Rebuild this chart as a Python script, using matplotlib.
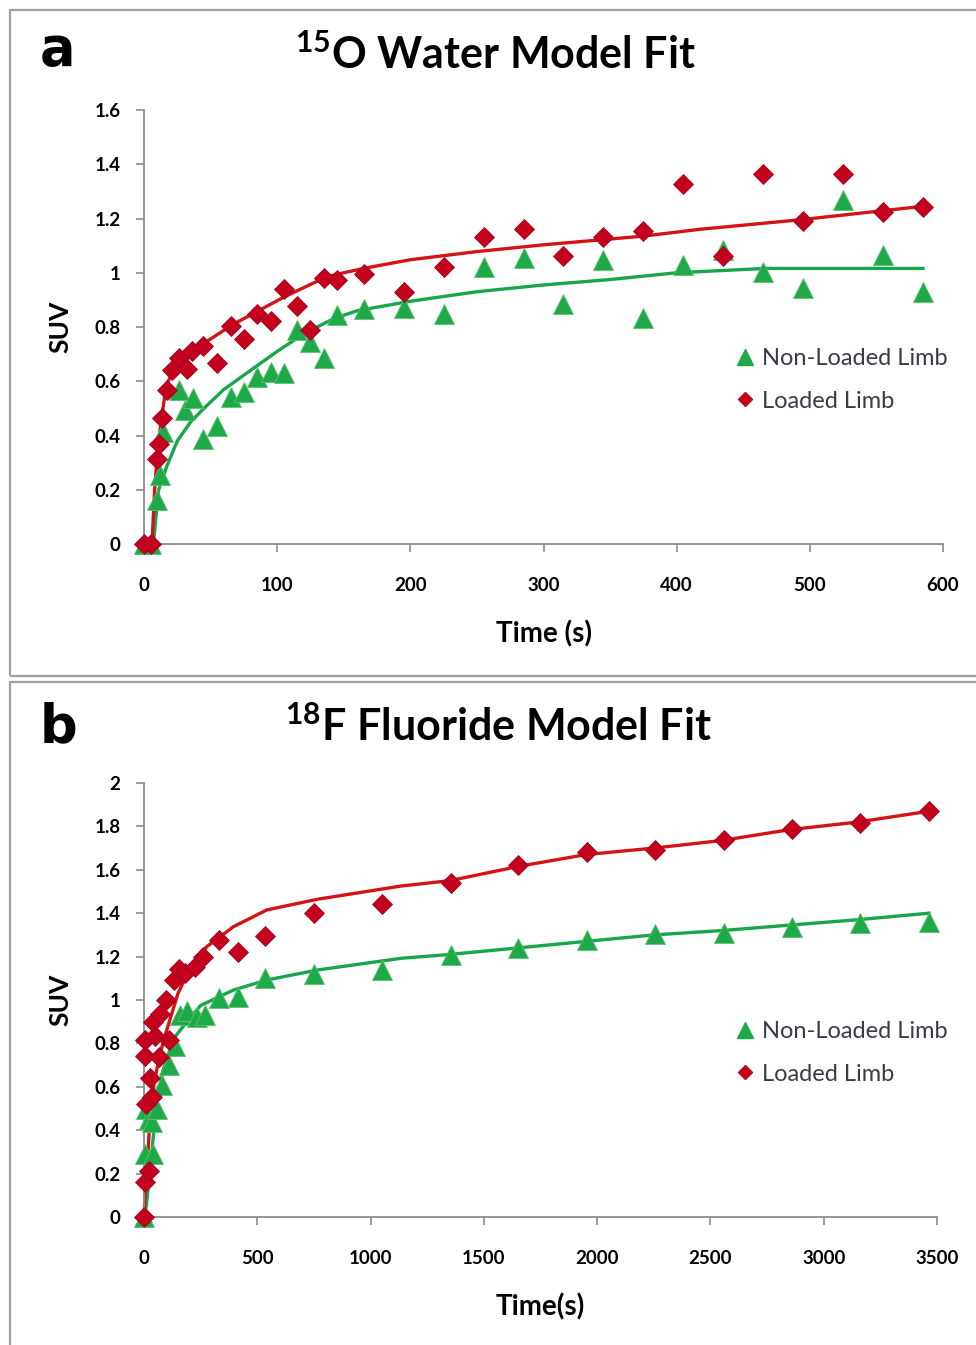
import matplotlib
matplotlib.use("Agg")
import matplotlib.pyplot as plt
from matplotlib.patches import Rectangle
from matplotlib.ticker import FuncFormatter
from matplotlib.lines import Line2D

plt.rcParams['font.family'] = ['Lato', 'DejaVu Sans']
plt.rcParams['mathtext.fontset'] = 'custom'
plt.rcParams['mathtext.rm'] = 'Lato'
plt.rcParams['mathtext.bf'] = 'Lato:bold'

# ---- panel a: 15O water ----
a_load_t = [0, 5, 9.5, 11, 13.5, 17, 21, 26, 32, 36, 44, 55, 65, 75, 85, 95, 105, 115, 125,
            135, 145, 165, 195, 225, 255, 285, 315, 345, 375, 405, 435, 465, 495, 525, 555, 585]
a_load_y = [0, 0, 0.314, 0.37, 0.465, 0.568, 0.641, 0.685, 0.646, 0.712, 0.730, 0.666, 0.805,
            0.756, 0.847, 0.822, 0.940, 0.877, 0.789, 0.982, 0.973, 0.995, 0.930, 1.020, 1.131,
            1.160, 1.063, 1.131, 1.155, 1.327, 1.063, 1.364, 1.192, 1.364, 1.223, 1.241]
a_non_t = [0, 5, 10, 12, 14, 26, 31, 37, 44, 55, 65, 75, 85, 95, 105, 115, 125, 135, 145,
           165, 195, 225, 255, 285, 315, 345, 375, 405, 435, 465, 495, 525, 555, 585]
a_non_y = [0, 0, 0.162, 0.254, 0.414, 0.568, 0.494, 0.540, 0.388, 0.436, 0.543, 0.561, 0.617,
           0.635, 0.629, 0.789, 0.746, 0.685, 0.844, 0.865, 0.869, 0.848, 1.022, 1.053, 0.885,
           1.047, 0.832, 1.029, 1.084, 1.004, 0.943, 1.268, 1.065, 0.930]
a_fit_load_t = [0, 6, 8, 10, 13, 17, 25, 32, 45, 67, 105, 137, 150, 167, 200, 250, 300, 375,
                417, 492, 585]
a_fit_load_y = [0, 0, 0.2, 0.33, 0.46, 0.59, 0.66, 0.69, 0.74, 0.81, 0.91, 0.985, 1.0, 1.018,
                1.048, 1.078, 1.103, 1.135, 1.16, 1.195, 1.245]
a_fit_non_t = [0, 7, 9, 11, 17, 25, 35, 45, 60, 80, 100, 120, 142, 160, 200, 250, 300, 350,
               400, 467, 585]
a_fit_non_y = [0, 0, 0.1, 0.2, 0.285, 0.38, 0.45, 0.50, 0.57, 0.64, 0.71, 0.775, 0.83, 0.86,
               0.895, 0.93, 0.955, 0.975, 1.0, 1.016, 1.016]

# ---- panel b: 18F fluoride ----
b_load_t = [0, 4, 4, 4, 10, 20, 26, 34, 41, 48, 65, 70, 95, 110, 134, 155, 181, 225, 262, 329,
            417, 535, 750, 1052, 1354, 1650, 1955, 2257, 2558, 2858, 3159, 3465]
b_load_y = [0, 0.16, 0.74, 0.816, 0.52, 0.213, 0.64, 0.555, 0.90, 0.835, 0.737, 0.935, 1.0, 0.816,
            1.092, 1.142, 1.123, 1.154, 1.2, 1.277, 1.22, 1.297, 1.40, 1.442, 1.539, 1.622, 1.68,
            1.691, 1.737, 1.788, 1.817, 1.87]
b_non_t = [0, 4, 8, 20, 34, 41, 56, 78, 112, 137, 159, 189, 233, 270, 329, 417, 535, 750, 1052,
           1354, 1650, 1955, 2257, 2558, 2858, 3159, 3465]
b_non_y = [0, 0.29, 0.50, 0.45, 0.44, 0.29, 0.50, 0.61, 0.70, 0.79, 0.93, 0.95, 0.92, 0.93, 1.01,
           1.016, 1.10, 1.12, 1.14, 1.207, 1.24, 1.277, 1.304, 1.309, 1.336, 1.355, 1.36]
b_fit_load_t = [0, 4, 15, 26, 45, 70, 100, 150, 200, 277, 395, 542, 764, 1133, 1350, 1650, 1950,
                2250, 2550, 2850, 3150, 3465]
b_fit_load_y = [0, 0.1, 0.25, 0.45, 0.62, 0.75, 0.86, 1.03, 1.14, 1.246, 1.338, 1.415, 1.464,
                1.525, 1.55, 1.615, 1.67, 1.70, 1.735, 1.785, 1.82, 1.87]
b_fit_non_t = [0, 10, 25, 41, 60, 85, 137, 189, 250, 395, 542, 764, 1133, 1350, 1650, 1950, 2250,
               2550, 2850, 3150, 3465]
b_fit_non_y = [0, 0.05, 0.2, 0.37, 0.55, 0.68, 0.83, 0.90, 0.975, 1.046, 1.092, 1.138, 1.192, 1.21,
               1.24, 1.27, 1.30, 1.32, 1.345, 1.37, 1.40]

RED = '#C4001C'
RED_LINE = '#D41414'
GREEN = '#1EAA48'
GREEN_LINE = '#18A64A'
AXIS = '#8C8C8C'

fig = plt.figure(figsize=(9.76, 13.45), dpi=100)

# panel frames
fig.patches.append(Rectangle((10 / 976, 1 - 676 / 1345), 1.0, 666 / 1345, transform=fig.transFigure,
                             fill=False, edgecolor='#A0A0A0', linewidth=1.6))
fig.patches.append(Rectangle((10 / 976, -0.1), 1.0, (0.1 + 1 - 682 / 1345), transform=fig.transFigure,
                             fill=False, edgecolor='#A0A0A0', linewidth=1.6))


def style_axes(ax, xmax, xstep, ymax, ystep, xlabel):
    for s in ['top', 'right']:
        ax.spines[s].set_visible(False)
    for s in ['left', 'bottom']:
        ax.spines[s].set_color(AXIS)
        ax.spines[s].set_linewidth(1.3)
    ax.set_xlim(0, xmax)
    ax.set_ylim(0, ymax)
    ax.set_xticks([i * xstep for i in range(int(round(xmax / xstep)) + 1)])
    ax.set_yticks([round(i * ystep, 2) for i in range(int(round(ymax / ystep)) + 1)])
    ax.yaxis.set_major_formatter(FuncFormatter(lambda v, p: '%g' % v))
    ax.tick_params(axis='both', direction='out', color=AXIS, length=6, width=1.2,
                   labelsize=13.5)
    ax.tick_params(axis='x', pad=18)
    ax.tick_params(axis='y', pad=11)
    for lab in ax.get_xticklabels() + ax.get_yticklabels():
        lab.set_fontweight('bold')
    ax.set_xlabel(xlabel, fontsize=20, fontweight='bold', labelpad=19)
    ax.set_ylabel('SUV', fontsize=19, fontweight='bold', labelpad=16)


def draw(ax, lt, ly, nt, ny, flt, fly, fnt, fny, anchor_x):
    ax.plot(fnt, fny, color=GREEN_LINE, lw=2.4, zorder=2, clip_on=False)
    ax.plot(flt, fly, color=RED_LINE, lw=2.4, zorder=2, clip_on=False)
    ax.plot(nt, ny, linestyle='none', marker='^', markersize=14, color=GREEN,
            markeredgecolor='#5CC070', markeredgewidth=0.6, zorder=3, clip_on=False)
    ax.plot(lt, ly, linestyle='none', marker='D', markersize=10.5, color=RED,
            markeredgecolor='#9A0A2A', markeredgewidth=0.6, zorder=4, clip_on=False)
    handles = [Line2D([], [], linestyle='none', marker='^', markersize=11, color=GREEN),
               Line2D([], [], linestyle='none', marker='D', markersize=7, color=RED)]
    leg = ax.legend(handles, ['Non-Loaded Limb', 'Loaded Limb'], loc='center left',
                    bbox_to_anchor=(anchor_x, 0.378), frameon=False, fontsize=17,
                    handlelength=0.6, handletextpad=0.4, labelspacing=0.9,
                    borderpad=0, borderaxespad=0)
    for t in leg.get_texts():
        t.set_color('#3A3A48')
    return leg


ax1 = fig.add_axes([144 / 976, 1 - 544 / 1345, 799 / 976, 434 / 1345])
draw(ax1, a_load_t, a_load_y, a_non_t, a_non_y, a_fit_load_t, a_fit_load_y, a_fit_non_t, a_fit_non_y,
     (738 - 144) / 799)
style_axes(ax1, 600, 100, 1.6, 0.2, 'Time (s)')

ax2 = fig.add_axes([144 / 976, 1 - 1217 / 1345, 793 / 976, 434 / 1345])
draw(ax2, b_load_t, b_load_y, b_non_t, b_non_y, b_fit_load_t, b_fit_load_y, b_fit_non_t, b_fit_non_y,
     (738 - 144) / 793)
style_axes(ax2, 3500, 500, 2.0, 0.2, 'Time(s)')

fig.text(58 / 976, 1 - 50 / 1345, 'a', fontsize=38, fontweight='bold', ha='center', va='center',
         family='DejaVu Sans')
fig.text(58 / 976, 1 - 727 / 1345, 'b', fontsize=38, fontweight='bold', ha='center', va='center',
         family='DejaVu Sans')
fig.text(496 / 976, 1 - 55 / 1345, r'$\mathbf{^{15}}$O Water Model Fit', fontsize=31,
         fontweight='bold', ha='center', va='center')
fig.text(498 / 976, 1 - 727 / 1345, r'$\mathbf{^{18}}$F Fluoride Model Fit', fontsize=31,
         fontweight='bold', ha='center', va='center')

fig.savefig('out.png', dpi=100)
